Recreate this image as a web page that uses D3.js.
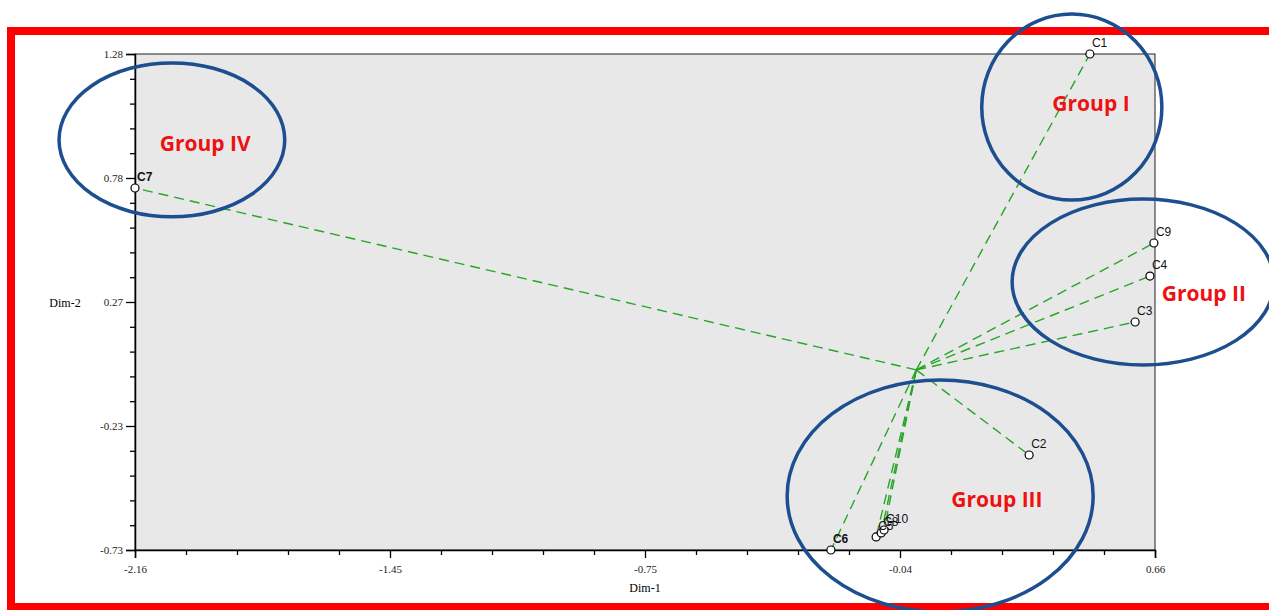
<!DOCTYPE html>
<html>
<head>
<meta charset="utf-8">
<script src="https://cdn.jsdelivr.net/npm/d3@7"></script>
<style>
  body { margin: 0; background: #fff; }
  svg { display: block; }
</style>
</head>
<body>
<div id="chart"></div>
<script>
const W = 1269, H = 610;

// Data
const names = ["C1", "C2", "C3", "C4", "C5", "C6", "C7", "C8", "C9", "C10"];
const dim1 = [0.48, 0.312, 0.605, 0.646, -0.111, -0.236, -2.16, -0.097, 0.657, -0.089];
const dim2 = [1.28, -0.345, 0.194, 0.38, -0.677, -0.73, 0.737, -0.661, 0.514, -0.649];

const xTickLabels = ["-2.16", "-1.45", "-0.75", "-0.04", "0.66"];
const yTickLabels = ["-0.73", "-0.23", "0.27", "0.78", "1.28"];

// hand-drawn group ellipses, in data units
const groupNames = ["Group IV", "Group I", "Group II", "Group III"];
const groupCx = [-2.058, 0.43, 0.627, 0.066];
const groupCy = [0.932, 1.065, 0.356, -0.511];
const groupRx = [0.312, 0.249, 0.362, 0.423];
const groupRy = [0.312, 0.377, 0.336, 0.47];
const labelX = [-1.966, 0.483, 0.795, 0.223];
const labelY = [0.915, 1.077, 0.307, -0.527];

const x = d3.scaleLinear().domain([-2.16, 0.66]).range([135, 1155]);
const y = d3.scaleLinear().domain([-0.73, 1.28]).range([550, 54]);

const svg = d3.select("#chart").append("svg")
    .attr("width", W)
    .attr("height", H);

// red frame
svg.append("rect")
    .attr("x", 11).attr("y", 31)
    .attr("width", 1300).attr("height", 576)
    .attr("fill", "none")
    .attr("stroke", "#ff0000")
    .attr("stroke-width", 8);

// plot background
svg.append("rect")
    .attr("x", x(-2.16)).attr("y", y(1.28))
    .attr("width", x(0.66) - x(-2.16))
    .attr("height", y(-0.73) - y(1.28))
    .attr("fill", "#e8e8e8")
    .attr("stroke", "#222")
    .attr("stroke-width", 1);

// axes: 20 ticks, every 5th labelled
function tickVals(dom) {
    return d3.range(0, 21).map(i => dom[0] + i * (dom[1] - dom[0]) / 20);
}

const xAxis = d3.axisBottom(x)
    .tickValues(tickVals(x.domain()))
    .tickSize(8)
    .tickPadding(7)
    .tickFormat((d, i) => i % 5 === 0 ? xTickLabels[i / 5] : "");

const yAxis = d3.axisLeft(y)
    .tickValues(tickVals(y.domain()))
    .tickSize(9)
    .tickPadding(3)
    .tickFormat((d, i) => i % 5 === 0 ? yTickLabels[i / 5] : "");

const gx = svg.append("g")
    .attr("transform", `translate(0,${y(-0.73)})`)
    .call(xAxis);
gx.selectAll(".tick line").filter((d, i) => i % 5 !== 0).attr("y2", 5);

const gy = svg.append("g")
    .attr("transform", `translate(${x(-2.16)},0)`)
    .call(yAxis);
gy.selectAll(".tick line").filter((d, i) => i % 5 !== 0).attr("x2", -5);

[gx, gy].forEach(g => {
    g.select(".domain").attr("stroke", "#000").attr("stroke-width", 1.5);
    g.selectAll(".tick line").attr("stroke", "#000").attr("stroke-width", 1.3);
    g.selectAll(".tick text")
        .attr("font-family", "Liberation Serif, serif")
        .attr("font-size", 11)
        .attr("fill", "#222");
});

svg.append("text")
    .attr("x", 65).attr("y", y(0.27) + 4)
    .attr("text-anchor", "middle")
    .attr("font-family", "Liberation Serif, serif")
    .attr("font-size", 12)
    .text("Dim-2");

svg.append("text")
    .attr("x", x(-0.75)).attr("y", 592)
    .attr("text-anchor", "middle")
    .attr("font-family", "Liberation Serif, serif")
    .attr("font-size", 12)
    .text("Dim-1");

// dashed vectors from origin
svg.append("g").selectAll("line")
    .data(names)
    .join("line")
    .attr("x1", x(0)).attr("y1", y(0))
    .attr("x2", (d, i) => x(dim1[i]))
    .attr("y2", (d, i) => y(dim2[i]))
    .attr("stroke", "#26a526")
    .attr("stroke-width", 1.4)
    .attr("stroke-dasharray", "10,6");

// points
svg.append("g").selectAll("circle")
    .data(names)
    .join("circle")
    .attr("cx", (d, i) => x(dim1[i]))
    .attr("cy", (d, i) => y(dim2[i]))
    .attr("r", 4)
    .attr("fill", "#fff")
    .attr("stroke", "#000")
    .attr("stroke-width", 1.2);

svg.append("g").selectAll("text")
    .data(names)
    .join("text")
    .attr("x", (d, i) => x(dim1[i]) + 2)
    .attr("y", (d, i) => y(dim2[i]) - 7)
    .attr("font-family", "Liberation Sans, sans-serif")
    .attr("font-size", 12)
    .attr("font-weight", d => (d === "C7" || d === "C6") ? "bold" : "normal")
    .attr("fill", "#111")
    .text(d => d);

// group ellipses
svg.append("g").selectAll("ellipse")
    .data(groupNames)
    .join("ellipse")
    .attr("cx", (d, i) => x(groupCx[i]))
    .attr("cy", (d, i) => y(groupCy[i]))
    .attr("rx", (d, i) => x(groupCx[i] + groupRx[i]) - x(groupCx[i]))
    .attr("ry", (d, i) => y(groupCy[i] - groupRy[i]) - y(groupCy[i]))
    .attr("fill", "none")
    .attr("stroke", "#1d4e8f")
    .attr("stroke-width", 3.5);

svg.append("g").selectAll("text")
    .data(groupNames)
    .join("text")
    .attr("x", (d, i) => x(labelX[i]))
    .attr("y", (d, i) => y(labelY[i]))
    .attr("dy", "0.35em")
    .attr("text-anchor", "middle")
    .attr("font-family", "Open Sans, sans-serif")
    .attr("font-weight", "bold")
    .attr("font-size", 21)
    .attr("fill", "#ee1111")
    .text(d => d);
</script>
</body>
</html>
